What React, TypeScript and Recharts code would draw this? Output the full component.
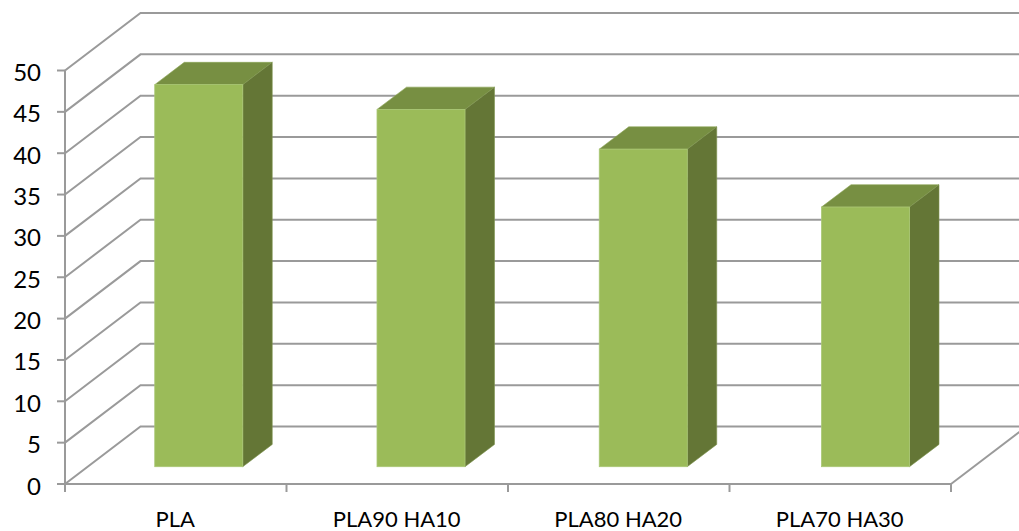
import { BarChart, Bar, XAxis, YAxis, CartesianGrid } from "recharts"

const categories = ["PLA", "PLA90 HA10", "PLA80 HA20", "PLA70 HA30"]
const strengths = [46.2, 43.2, 38.4, 31.4]
const yTicks = [0, 5, 10, 15, 20, 25, 30, 35, 40, 45, 50]

const tableData = categories.map((name, i) => ({ name, value: strengths[i] }))

const WIDTH = 1019
const HEIGHT = 531
const AXIS_WIDTH = 65
const AXIS_HEIGHT = 47
const MARGIN = { top: 70.5, right: 68, bottom: 0, left: 0 }
const FLOOR_Y = HEIGHT - AXIS_HEIGHT
const SLOT = (WIDTH - MARGIN.right - AXIS_WIDTH) / categories.length

// fake-3D projection: wall depth, bar depth, and how far bars sit from the front edge
const WALL_DX = 75.5
const WALL_DY = -57.5
const BAR_DX = 29.5
const BAR_DY = -22.3
const BAR_SHIFT_X = 23.3
const BAR_SHIFT_Y = -17.3
const BAR_DRIFT_X = 0.75 // slight perspective spread per category

const GRID = "#9a9a9a"
const FONT = "Lato, 'Noto Sans', sans-serif"

function WallLine({ x1, y1, x2 }: any) {
  const isFloor = Math.abs(y1 - FLOOR_Y) < 1
  return (
    <g fill="none" stroke={GRID} strokeWidth={2}>
      <path d={`M${x1},${y1} L${x1 + WALL_DX},${y1 + WALL_DY} L${x2 + WALL_DX},${y1 + WALL_DY}`} />
      {isFloor && <path d={`M${x2},${y1} L${x2 + WALL_DX},${y1 + WALL_DY}`} />}
    </g>
  )
}

function Box3D({ x, y, width, height, index }: any) {
  const left = x + BAR_SHIFT_X + index * BAR_DRIFT_X
  const right = left + width - 1
  const top = y + BAR_SHIFT_Y
  const bottom = top + height
  return (
    <g>
      <path
        d={`M${left},${top} L${left + BAR_DX},${top + BAR_DY} L${right + BAR_DX},${top + BAR_DY} L${right},${top} Z`}
        fill="#778f42"
        stroke="#8aa354"
        strokeWidth={0.6}
      />
      <path
        d={`M${right},${top} L${right + BAR_DX},${top + BAR_DY} L${right + BAR_DX},${bottom + BAR_DY} L${right},${bottom} Z`}
        fill="#647636"
        stroke="#7f9550"
        strokeWidth={0.6}
      />
      <rect x={left} y={top} width={right - left} height={height} fill="#9bbb59" stroke="#aac775" strokeWidth={0.8} />
    </g>
  )
}

// Ticks sit on the category boundaries, labels stay centred in each slot
function CategoryTick({ x, payload, index }: any) {
  const edge = x - SLOT / 2
  return (
    <g>
      <line x1={edge} y1={FLOOR_Y} x2={edge} y2={FLOOR_Y + 8} stroke={GRID} strokeWidth={2} />
      {index === categories.length - 1 && (
        <line x1={edge + SLOT} y1={FLOOR_Y} x2={edge + SLOT} y2={FLOOR_Y + 8} stroke={GRID} strokeWidth={2} />
      )}
      <text x={x - 0.5} y={527} textAnchor="middle" fontFamily={FONT} fontSize={22} fill="#000">
        {payload.value}
      </text>
    </g>
  )
}

export default function App() {
  return (
    <div style={{ position: "absolute", left: 0, top: 0, width: WIDTH, height: HEIGHT, background: "#fff", overflow: "hidden" }}>
      <BarChart width={WIDTH} height={HEIGHT} data={tableData} margin={MARGIN} barCategoryGap="30%">
        <CartesianGrid vertical={false} horizontal={(p: any) => <WallLine key={p.key ?? p.y1} {...p} />} />
        <XAxis
          dataKey="name"
          interval={0}
          tickLine={false}
          axisLine={{ stroke: GRID, strokeWidth: 2 }}
          tick={<CategoryTick />}
          height={AXIS_HEIGHT}
        />
        <YAxis
          width={AXIS_WIDTH}
          domain={[0, 50]}
          ticks={yTicks}
          interval={0}
          tickSize={8}
          tickMargin={16}
          axisLine={{ stroke: GRID, strokeWidth: 2 }}
          tickLine={{ stroke: GRID, strokeWidth: 2 }}
          tick={{ fill: "#000", fontSize: 24, fontFamily: FONT, dy: 2 }}
        />
        <Bar dataKey="value" shape={<Box3D />} isAnimationActive={false} />
      </BarChart>
    </div>
  )
}
